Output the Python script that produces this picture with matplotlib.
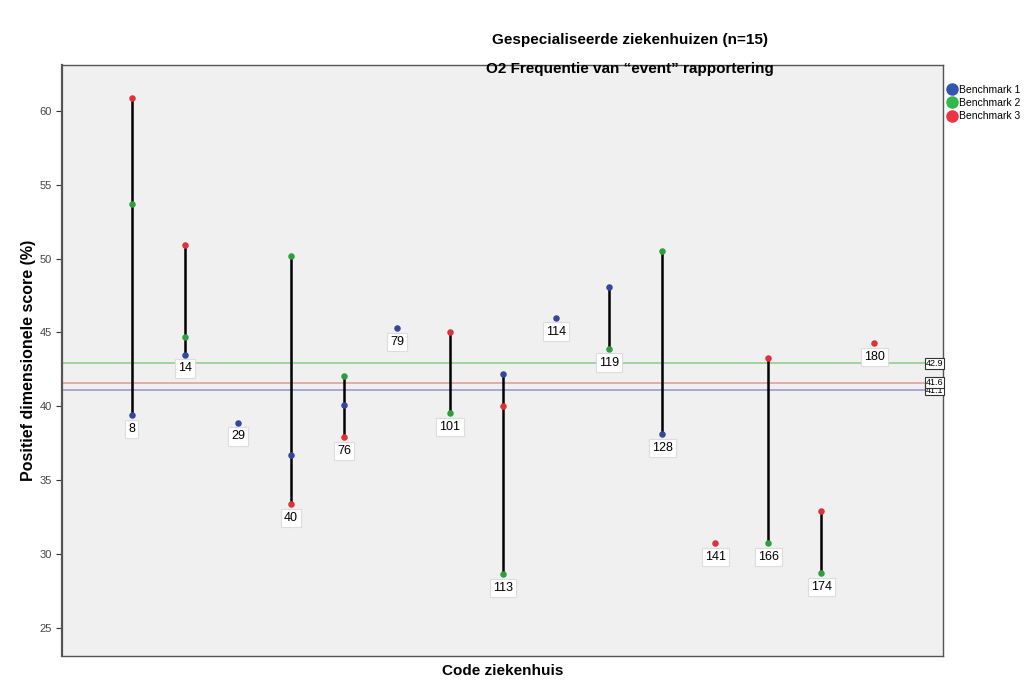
import matplotlib.pyplot as plt

plt.rcParams['font.family'] = ['Liberation Sans', 'DejaVu Sans']

# hospital codes and scores per benchmark (None = no value)
codes = ['8', '14', '29', '40', '76', '79', '101', '113', '114', '119', '128', '141', '166', '174', '180']
bench1 = [39.4, 43.5, 38.9, 36.7, 40.1, 45.3, None, 42.2, 46.0, 48.1, 38.1, None, None, None, None]
bench2 = [53.7, 44.7, None, 50.2, 42.05, None, 39.55, 28.65, None, 43.9, 50.5, None, 30.75, 28.7, None]
bench3 = [60.9, 50.9, None, 33.4, 37.9, None, 45.05, 40.0, None, None, None, 30.75, 43.25, 32.9, 44.3]
ref_values = [41.1, 42.9, 41.6]
ref_labels = ['41.1', '42.9', '41.6']

pt_colors = ['#34479a', '#2e9e3e', '#e0303a']
leg_colors = ['#3355b0', '#33b84a', '#ee3344']
ref_colors = ['#9a9ad6', '#8fd08f', '#e0a0a0']
names = ['Benchmark 1', 'Benchmark 2', 'Benchmark 3']

fig = plt.figure(figsize=(10.24, 6.94), dpi=100)
ax = fig.add_axes([0.0605, 0.0548, 0.8605, 0.8515])
ax.set_facecolor('#f0f0f0')

series = [bench1, bench2, bench3]
for i, code in enumerate(codes):
    vals = [s[i] for s in series if s[i] is not None]
    if len(vals) > 1:
        ax.plot([i, i], [min(vals), max(vals)], color='black', lw=1.8, zorder=2)
    ax.annotate(code, (i, min(vals)), xytext=(0, -10), textcoords='offset points',
                ha='center', va='center', fontsize=9,
                bbox=dict(boxstyle='square,pad=0.25', fc='white', ec='#dddddd', lw=0.8),
                zorder=4)

for s, c in zip(series, pt_colors):
    xs = [i for i, v in enumerate(s) if v is not None]
    ys = [v for v in s if v is not None]
    ax.scatter(xs, ys, s=22, color=c, zorder=3, linewidths=0)

for v, lab, c in zip(ref_values, ref_labels, ref_colors):
    ax.axhline(v, color=c, lw=1.2, zorder=1)
    ax.text(15.3, v, lab, ha='right', va='center', fontsize=6.5, clip_on=False,
            bbox=dict(boxstyle='square,pad=0.08', fc='white', ec='#333333', lw=0.8),
            zorder=5)

ax.set_xlim(-1.32, 15.3)
ax.set_ylim(23.1, 63.1)
ax.set_xticks([])
ax.set_yticks([25, 30, 35, 40, 45, 50, 55, 60])
ax.tick_params(axis='y', labelsize=8, labelcolor='#444444', length=4, color='#333333')
for sp in ax.spines.values():
    sp.set_color('#555555')
    sp.set_linewidth(1.0)
ax.spines['left'].set_linewidth(1.6)

ax.set_ylabel('Positief dimensionele score (%)', fontsize=11.5, fontweight='bold', labelpad=2)
ax.set_xlabel('Code ziekenhuis', fontsize=11, fontweight='bold', labelpad=6)

fig.text(0.615, 0.943, 'Gespecialiseerde ziekenhuizen (n=15)', ha='center', va='center',
         fontsize=11, fontweight='bold')
fig.text(0.615, 0.900, 'O2 Frequentie van \u201cevent\u201d rapportering', ha='center', va='center',
         fontsize=11, fontweight='bold')

handles = [plt.Line2D([], [], marker='o', ls='', color=c, markersize=8) for c in leg_colors]
fig.legend(handles, names, loc='upper left', bbox_to_anchor=(0.917, 0.888), frameon=False,
           fontsize=7.5, handletextpad=0.2, labelspacing=0.3, borderpad=0.2, handlelength=1.0)

plt.savefig('out.png', dpi=100)
